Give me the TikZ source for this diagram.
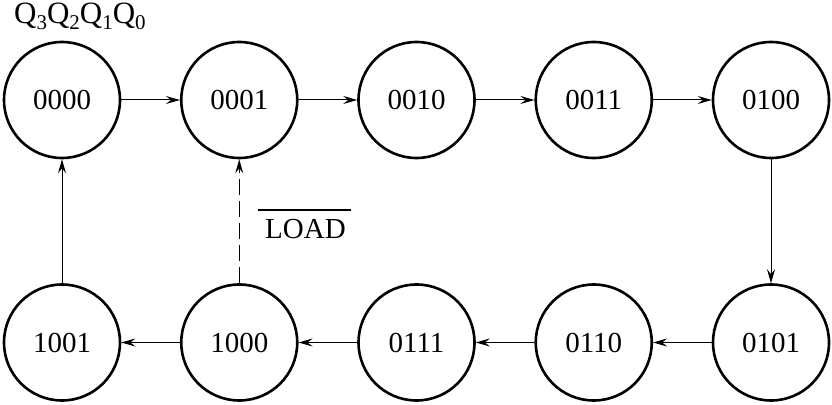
\documentclass[tikz,border=0pt]{standalone}
\usepackage{fontspec}
\setmainfont{Liberation Serif}
\usetikzlibrary{arrows.meta,calc}
\newcommand{\qsub}[1]{{\fontsize{21}{21}\selectfont\raisebox{-6pt}{#1}}}
\begin{document}
\begin{tikzpicture}[x=1pt,y=1pt,
  state/.style={circle,draw,line width=2.6pt,minimum size=116pt,inner sep=0pt,font=\fontsize{29}{29}\selectfont},
  conn/.style={line width=1pt,-{Stealth[length=14pt,width=8pt,inset=5pt]}},
  lbl/.style={font=\fontsize{29}{29}\selectfont,inner sep=0pt}]
\useasboundingbox (0,0) rectangle (832,404);
\node[state] (s0) at (62,304) {0000};
\node[state] (s1) at (239.25,304) {0001};
\node[state] (s2) at (416.5,304) {0010};
\node[state] (s3) at (593.75,304) {0011};
\node[state] (s4) at (771,304) {0100};
\node[state] (s5) at (771,61.5) {0101};
\node[state] (s6) at (593.75,61.5) {0110};
\node[state] (s7) at (416.5,61.5) {0111};
\node[state] (s8) at (239.25,61.5) {1000};
\node[state] (s9) at (62,61.5) {1001};
\draw[conn] (s0) -- (s1);
\draw[conn] (s1) -- (s2);
\draw[conn] (s2) -- (s3);
\draw[conn] (s3) -- (s4);
\draw[conn] (s4) -- (s5);
\draw[conn] (s5) -- (s6);
\draw[conn] (s6) -- (s7);
\draw[conn] (s7) -- (s8);
\draw[conn] (s8) -- (s9);
\draw[conn] (s9) -- (s0);
\draw[conn,dash pattern=on 16pt off 6pt] (s8) -- (s1);
\node[lbl,anchor=base west,font=\fontsize{31}{31}\selectfont] (q) at (14,380) {Q\qsub{3}Q\qsub{2}Q\qsub{1}Q\qsub{0}};
\node[lbl,anchor=base west] (load) at (265,165) {LOAD};
\draw[line width=1.1pt] ($(load.base west)+(-7,29)$) coordinate (ol1) -- ($(load.base east)+(5,29)$) coordinate (ol2);
\end{tikzpicture}
\end{document}
